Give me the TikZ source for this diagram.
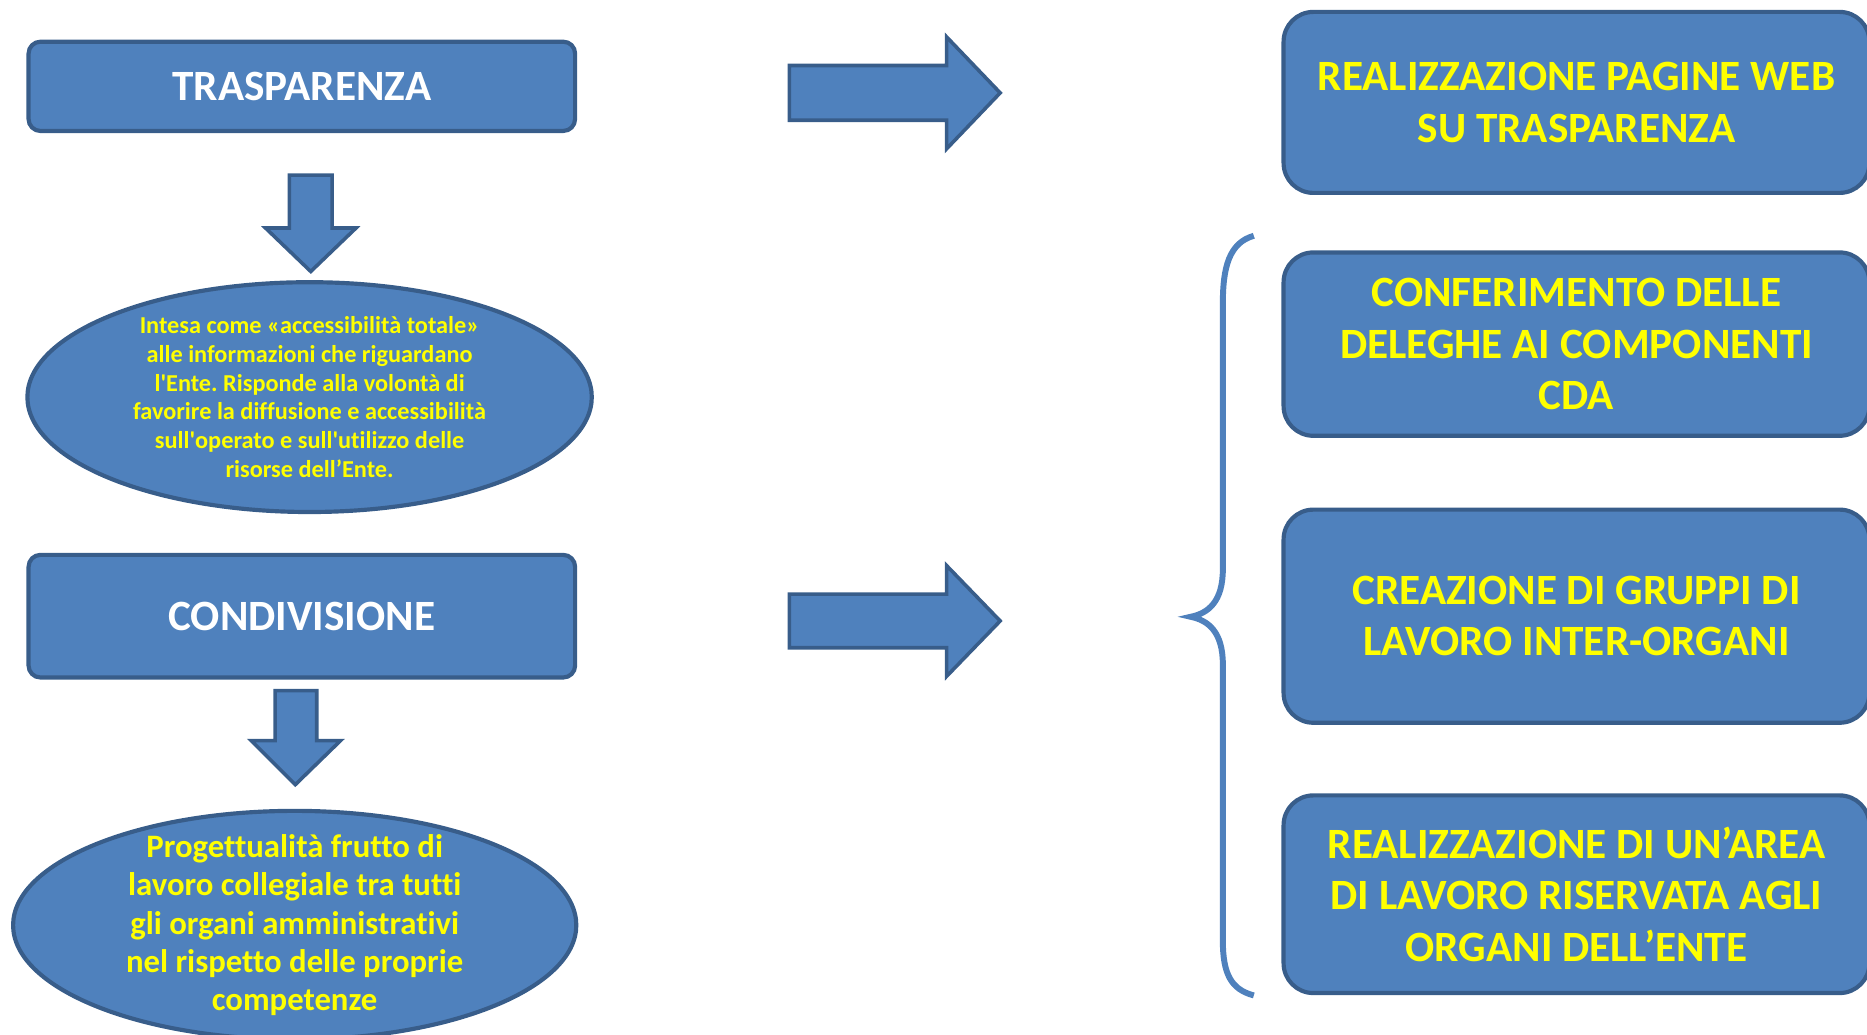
\documentclass[tikz,border=0pt]{standalone}
\usepackage{fontspec}
\setmainfont{Carlito}[Ligatures={NoCommon}]
\usetikzlibrary{shapes.geometric}
\definecolor{boxfill}{HTML}{4F81BD}
\definecolor{boxline}{HTML}{385D8A}
\definecolor{txtyellow}{HTML}{FFFF00}
\frenchspacing
\begin{document}
\begin{tikzpicture}[x=1pt,y=-1pt,
 leftbox/.style={draw=boxline, fill=boxfill, line width=3.5pt, rounded corners=10pt, minimum width=459pt, inner sep=0pt, text=white, font=\bfseries\fontsize{36.3}{43}\selectfont},
 rightbox/.style={draw=boxline, fill=boxfill, line width=3.5pt, rounded corners=25pt, minimum width=492pt, inner sep=0pt, text=txtyellow, align=center, font=\bfseries\fontsize{36.3}{43}\selectfont},
 oval/.style={ellipse, draw=boxline, fill=boxfill, line width=3.5pt, inner sep=0pt},
 blockarrow/.style={draw=boxline, fill=boxfill, line width=3pt, line join=miter},
 ovaltext/.style={text=txtyellow, align=center, inner sep=0pt},
 bracestyle/.style={draw=boxfill, line width=5pt}]
\useasboundingbox (0,0) rectangle (1568,868.4);

% left column
\node[leftbox, minimum height=75pt] (trasp) at (253.5,72.5) {TRASPARENZA};
\node[oval, minimum width=474pt, minimum height=193pt] (ell1) at (260,333.5) {};
\node[ovaltext, font=\bfseries\fontsize{20.4}{24.2}\selectfont] (t1) at (ell1.center) {Intesa come «accessibilità totale»\\alle informazioni che riguardano\\l\textquotesingle Ente. Risponde alla volontà di\\favorire la diffusione e accessibilità\\sull\textquotesingle operato e sull\textquotesingle utilizzo delle\\risorse dell’Ente.};
\node[leftbox, minimum height=103pt] (cond) at (253.5,517.5) {CONDIVISIONE};
\node[oval, minimum width=473pt, minimum height=192pt] (ell2) at (247.5,777) {};
\node[ovaltext, font=\bfseries\fontsize{27.5}{32.2}\selectfont] (t2) at (ell2.center) {Progettualità frutto di\\lavoro collegiale tra tutti\\gli organi amministrativi\\nel rispetto delle proprie\\competenze};

% down arrows
\draw[blockarrow] (243,147) -- (279,147) -- (279,191.5) -- (299,191.5) -- (261,228) -- (223,191.5) -- (243,191.5) -- cycle;
\draw[blockarrow] (231,580) -- (266,580) -- (266,622) -- (286,622) -- (248,659) -- (211,622) -- (231,622) -- cycle;

% right arrows
\draw[blockarrow] (663,55) -- (795,55) -- (795,31) -- (840,78) -- (795,125) -- (795,101) -- (663,101) -- cycle;
\draw[blockarrow] (663,499) -- (795,499) -- (795,475) -- (840,521.5) -- (795,568) -- (795,544) -- (663,544) -- cycle;

% right column
\node[rightbox, minimum height=152pt] (web) at (1324,86) {REALIZZAZIONE PAGINE WEB\\SU TRASPARENZA};
\node[rightbox, minimum height=154pt] (deleghe) at (1324,289) {CONFERIMENTO DELLE\\DELEGHE AI COMPONENTI\\CDA};
\node[rightbox, minimum height=179pt] (gruppi) at (1324,517.5) {CREAZIONE DI GRUPPI DI\\LAVORO INTER-ORGANI};
\node[rightbox, minimum height=166pt] (area) at (1324,751) {REALIZZAZIONE DI UN’AREA\\DI LAVORO RISERVATA AGLI\\ORGANI DELL’ENTE};

% brace
\coordinate (bt) at (1053,198);
\coordinate (bm) at (1000,518);
\coordinate (bb) at (1053,836);
\draw[bracestyle] (bt) .. controls (1032,204) and (1027,225) .. (1027,255) -- (1027,478)
  .. controls (1027,505) and (1015,515) .. (bm)
  .. controls (1015,521) and (1027,531) .. (1027,558) -- (1027,790)
  .. controls (1027,818) and (1034,831) .. (bb);
\end{tikzpicture}
\end{document}
